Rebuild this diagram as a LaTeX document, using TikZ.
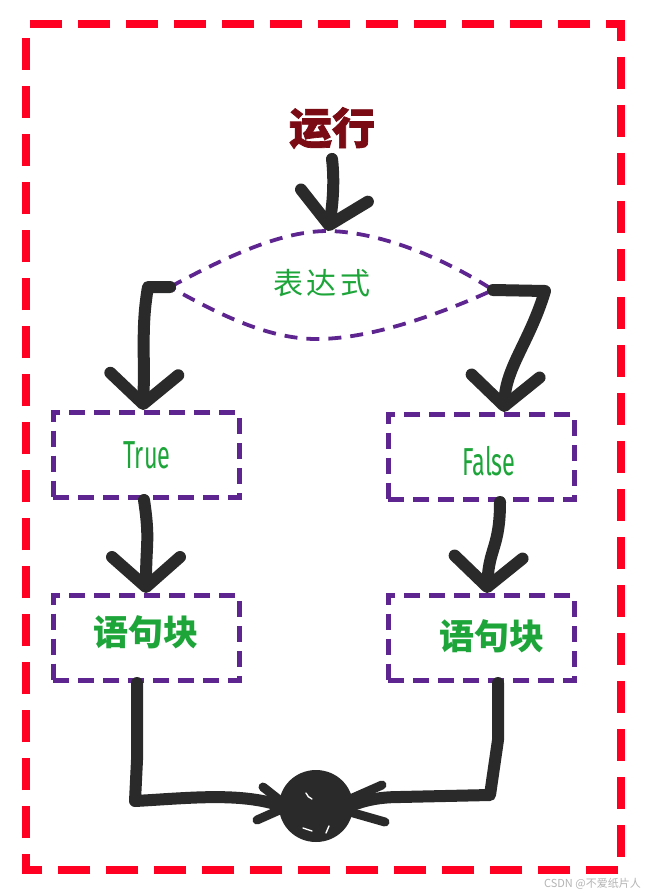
\documentclass[tikz,border=0pt]{standalone}
\usepackage{fontspec}
\usetikzlibrary{arrows.meta}
\newfontfamily\cjk{Noto Sans CJK SC}
\newfontfamily\cjkheavy[FakeBold=1.6]{Noto Sans CJK SC}
\newfontfamily\narrowfont[FakeStretch=0.6]{Fira Sans}
\definecolor{framered}{HTML}{FF0022}
\definecolor{runred}{HTML}{7A0A14}
\definecolor{boxpurple}{HTML}{5E2590}
\definecolor{txtgreen}{HTML}{1DA53A}
\definecolor{ink}{HTML}{2A2A2A}
\definecolor{wmgray}{HTML}{B4B4B4}
\begin{document}
\begin{tikzpicture}[x=1pt,y=-1pt,
  redframe/.style={draw=framered,line width=7.5pt,dash pattern=on 32pt off 16pt,dash phase=-4pt},
  purpledash/.style={draw=boxpurple,line width=3.8pt,dash pattern=on 13pt off 9pt},
  flowbox/.style={draw=boxpurple,line width=5pt,dash pattern=on 16pt off 9pt,rectangle,minimum width=186pt,minimum height=85pt,inner sep=0pt},
  conn/.style={draw=ink,line width=12pt,line cap=round,line join=round},
  barb/.style={-{Straight Barb[length=30pt,width=68pt,round]}},
  leg/.style={draw=ink,line width=9pt,line cap=round},
  runtext/.style={text=runred,font=\cjkheavy\bfseries\fontsize{43pt}{43pt}\selectfont,inner sep=0pt},
  condtext/.style={text=txtgreen,font=\cjk\fontsize{30pt}{30pt}\selectfont,inner sep=0pt},
  truetext/.style={text=txtgreen,font=\narrowfont\fontsize{39pt}{39pt}\selectfont},
  blocktext/.style={text=txtgreen,font=\cjk\bfseries\fontsize{35pt}{35pt}\selectfont}
]
\useasboundingbox[fill=white] (0,0) rectangle (650,896);
\draw[redframe] (26,24) -- (621,24) -- (621,870) -- (26,870) -- cycle;

% title
\node[runtext] (run) at (332,128) {运行};

% condition (lens shape)
\coordinate (condL) at (170,287);
\coordinate (condR) at (493,290);
\coordinate (condT) at (328,231);
\coordinate (condB) at (320,339);
\draw[purpledash] (condL) .. controls (235,252) and (285,231) .. (condT)
   .. controls (385,232) and (450,262) .. (condR)
   .. controls (445,312) and (375,338) .. (condB)
   .. controls (270,340) and (220,315) .. cycle;
\node[condtext] (cond) at (322,283) {表\hspace{4pt}达\hspace{4pt}式};

% boxes
\node[flowbox] (t1) at (146,455) {};
\node[truetext] (t1txt) at (147,455) {True};
\node[flowbox] (b1) at (146,638) {};
\node[blocktext] (b1txt) at (146,632) {语句块};
\node[flowbox] (f1) at (481,457) {};
\node[truetext] (f1txt) at (489,461) {False};
\node[flowbox] (b2) at (481,638) {};
\node[blocktext] (b2txt) at (492,636) {语句块};

% joining blob
\node[circle,fill=ink,minimum size=68pt,inner sep=0pt] (join) at (316,806) {};

% connectors
\draw[conn,barb] ([yshift=-10pt]run.south) .. controls +(3,25) and +(4,-22) .. (condT);
\draw[conn,barb] (condL) -- ++(-22,0) .. controls +(-7,40) and +(2,-55) .. ([xshift=-3pt]t1.north);
\draw[conn,barb] ([xshift=-2pt]t1.south) .. controls +(6,40) and +(0,-50) .. (b1.north);
\draw[conn,barb] (condR) -- ++(52,1) .. controls +(-15,50) and +(2,-45) .. ([xshift=23pt]f1.north);
\draw[conn,barb] ([xshift=19pt]f1.south) .. controls +(0,45) and +(2,-45) .. ([xshift=6pt]b2.north);
\draw[conn] ([xshift=-9pt]b1.south) -- (137,760) -- (135,801) .. controls (190,798) and (240,792) .. (join.west);
\draw[conn] ([xshift=17pt]b2.south) -- (498,740) -- (490,795) -- (400,797) .. controls (380,797) and (365,800) .. (join.east);

% blob scribble and legs
\fill[ink] (316,806) ellipse [x radius=37pt, y radius=36pt];
\draw[leg] (263,787) -- (287,806);
\draw[leg] (257,820) -- (284,808);
\draw[leg] (382,785) -- (348,800);
\draw[leg] (385,822) -- (350,812);
\draw[white,line width=1.4pt,line cap=round] (306,793) arc[start angle=200,end angle=250,radius=10pt];
\draw[white,line width=1.4pt,line cap=round] (303,828) -- (312,831);
\draw[white,line width=1.4pt,line cap=round] (329,826) -- (326,833);

% watermark
\node[text=wmgray,font=\cjk\fontsize{11pt}{11pt}\selectfont,anchor=east,inner sep=0pt] (wm) at (641,884) {CSDN @不爱纸片人};
\end{tikzpicture}
\end{document}
